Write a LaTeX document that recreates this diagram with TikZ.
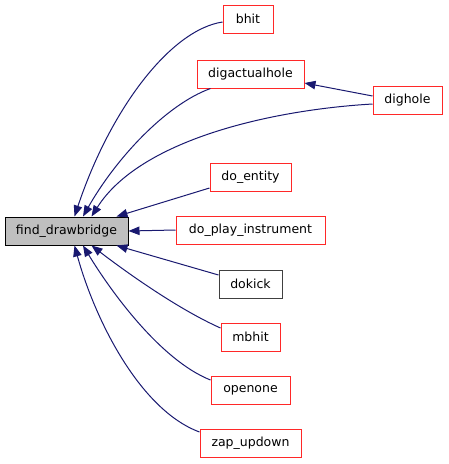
\documentclass[tikz,border=0pt]{standalone}
\usepackage{fontspec}
\setmainfont{DejaVu Sans}
\usetikzlibrary{arrows.meta}
\definecolor{edgeblue}{RGB}{25,25,112}
\definecolor{boxred}{RGB}{255,40,40}
\definecolor{boxgrey}{RGB}{191,191,191}
\definecolor{boxdark}{RGB}{64,64,64}

\tikzset{
  fn/.style={draw=boxred, fill=white, line width=1pt, minimum height=28pt,
    inner sep=0pt, font=\fontsize{12.5}{14}\selectfont},
  root/.style={fn, draw=black, fill=boxgrey},
  plain/.style={fn, draw=boxdark},
  call/.style={edgeblue, line width=1pt, -{Triangle[length=11pt,width=8.5pt]}}
}

\begin{document}
\begin{tikzpicture}[x=1pt,y=-1pt]
    \useasboundingbox (0,0) rectangle (448,464);
    %, nodes ---
    \node[root, minimum width=123pt] (fdb) at (66.5,231) {find\_drawbridge};
    \node[fn, minimum width=50pt] (bhit) at (248,19) {bhit};
    \node[fn, minimum width=107pt] (dah) at (250.5,74) {digactualhole};
    \node[fn, minimum width=69pt] (dighole) at (407.5,100) {dighole};
    \node[fn, minimum width=81pt] (doent) at (250.5,177) {do\_entity};
    \node[fn, minimum width=149pt] (doplay) at (250.5,230) {do\_play\_instrument};
    \node[plain, minimum width=63pt] (dokick) at (250.5,284) {dokick};
    \node[fn, minimum width=59pt] (mbhit) at (250.5,337) {mbhit};
    \node[fn, minimum width=79pt] (openone) at (250.5,390) {openone};
    \node[fn, minimum width=101pt] (zap) at (250.5,443) {zap\_updown};
    %, calls into find_drawbridge ---
    \draw[call] ([yshift=-3pt]bhit.west) .. controls (170,30) and (110,110) .. ([xshift=8pt]fdb.north);
    \draw[call] ([xshift=-40pt]dah.south) .. controls (165,105) and (115,160) .. ([xshift=16.5pt]fdb.north);
    \draw[call] ([yshift=-4pt]dighole.west) .. controls (270,110) and (140,140) .. ([xshift=25pt]fdb.north);
    \draw[call] ([yshift=-11pt]doent.west) -- ([xshift=-12pt]fdb.north east);
    \draw[call] (doplay.west) -- (fdb.east);
    \draw[call] ([yshift=9pt]dokick.west) -- ([xshift=-12pt]fdb.south east);
    \draw[call] ([yshift=9pt]mbhit.west) .. controls (180,310) and (130,275) .. ([xshift=25pt]fdb.south);
    \draw[call] ([yshift=10pt]openone.west) .. controls (160,360) and (110,290) .. ([xshift=16.5pt]fdb.south);
    \draw[call] ([yshift=11pt]zap.west) .. controls (140,410) and (95,320) .. ([xshift=8pt]fdb.south);
    % dighole calls digactualhole
    \draw[call] ([yshift=4pt]dighole.west) -- ([yshift=-9pt]dah.east);
\end{tikzpicture}
\end{document}
